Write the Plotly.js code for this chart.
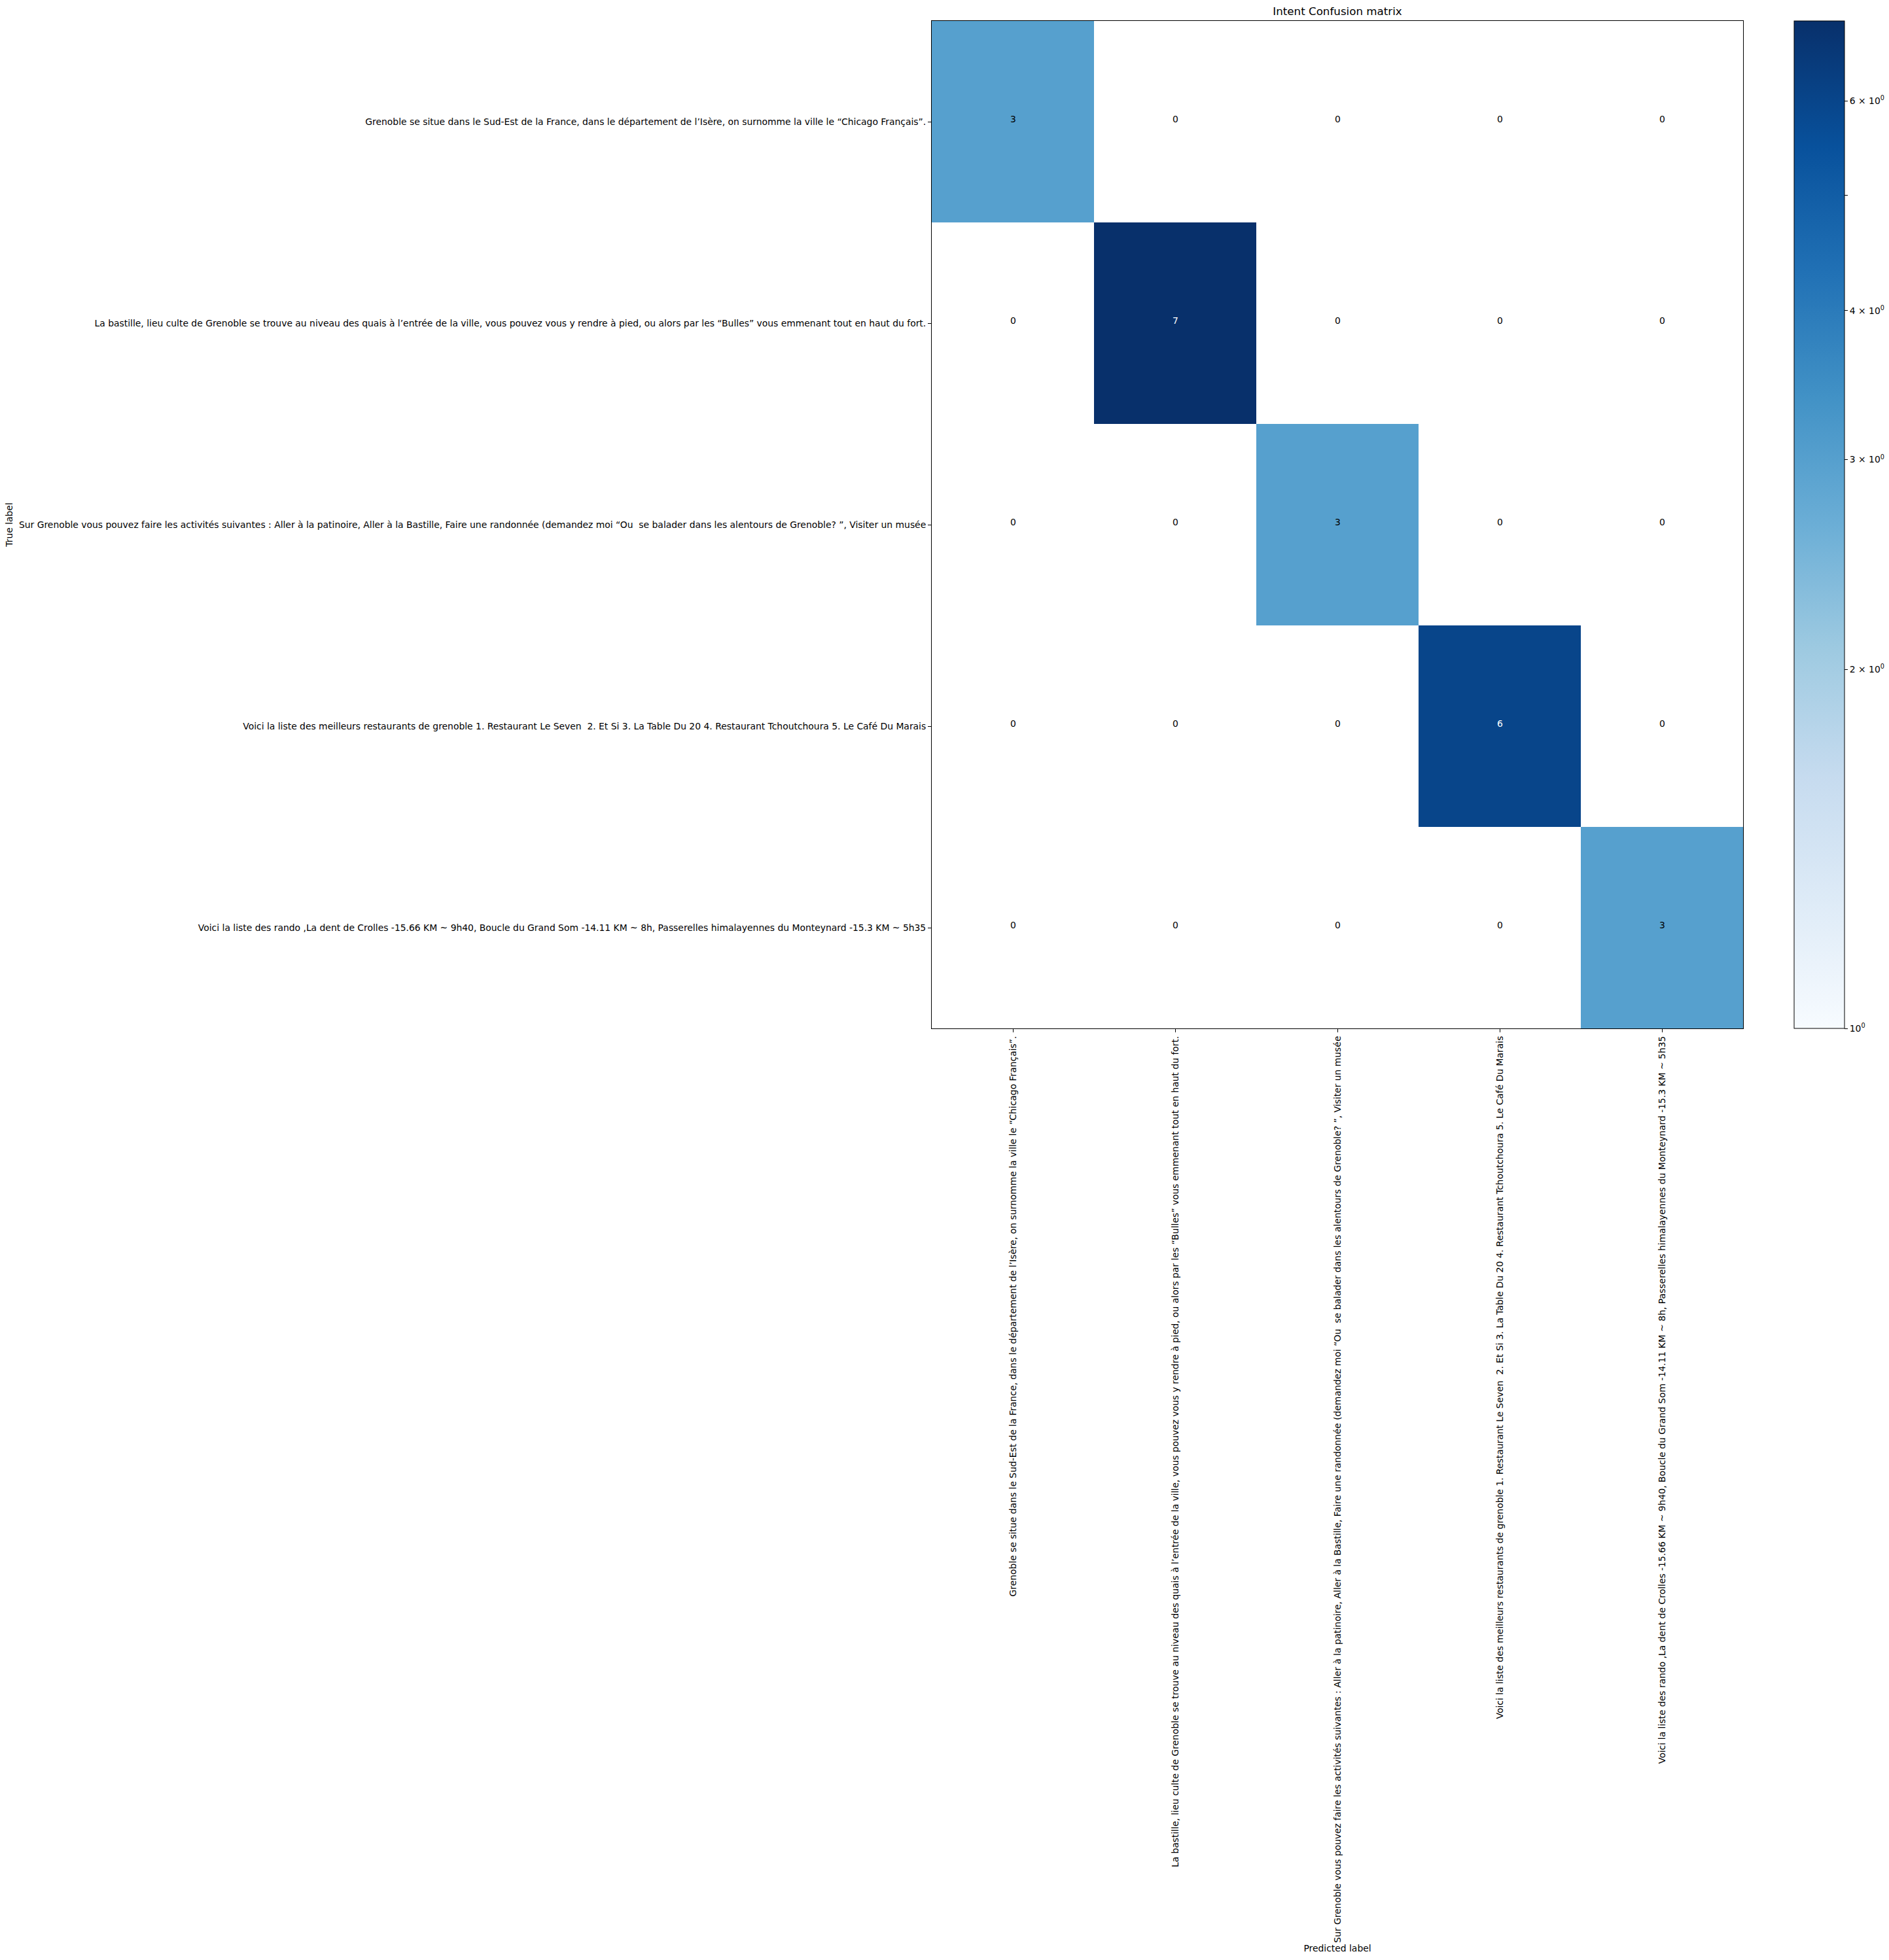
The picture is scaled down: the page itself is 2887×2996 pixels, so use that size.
<!DOCTYPE html>
<html>
<head>
<meta charset="utf-8">
<script src="https://cdn.plot.ly/plotly-3.0.1.min.js"></script>
<style>html,body{margin:0;padding:0;background:#fff;}</style>
</head>
<body>
<div id="chart" style="width:2887px;height:2996px;"></div>
<script>
// ---- data ----
const intentLabels = [
  "Grenoble se situe dans le Sud-Est de la France, dans le département de l’Isère, on surnomme la ville le “Chicago Français”.",
  "La bastille, lieu culte de Grenoble se trouve au niveau des quais à l’entrée de la ville, vous pouvez vous y rendre à pied, ou alors par les “Bulles” vous emmenant tout en haut du fort.",
  "Sur Grenoble vous pouvez faire les activités suivantes : Aller à la patinoire, Aller à la Bastille, Faire une randonnée (demandez moi “Ou \u00a0se balader dans les alentours de Grenoble? ”, Visiter un musée",
  "Voici la liste des meilleurs restaurants de grenoble 1. Restaurant Le Seven \u00a02. Et Si 3. La Table Du 20 4. Restaurant Tchoutchoura 5. Le Café Du Marais",
  "Voici la liste des rando ,La dent de Crolles -15.66 KM ~ 9h40, Boucle du Grand Som -14.11 KM ~ 8h, Passerelles himalayennes du Monteynard -15.3 KM ~ 5h35"
];
const row0 = [3, 0, 0, 0, 0];
const row1 = [0, 7, 0, 0, 0];
const row2 = [0, 0, 3, 0, 0];
const row3 = [0, 0, 0, 6, 0];
const row4 = [0, 0, 0, 0, 3];
const counts = [row0, row1, row2, row3, row4];
const colorbarTickValues = [1, 2, 3, 4, 5, 6];
const colorbarTickText = ["10<sup>0</sup>", "2 × 10<sup>0</sup>", "3 × 10<sup>0</sup>", "4 × 10<sup>0</sup>", "", "6 × 10<sup>0</sup>"];
const colorMin = 1;
const colorMax = 7;

// matplotlib "Blues"
const blues = [
  [0.000, "#f7fbff"], [0.125, "#deebf7"], [0.250, "#c6dbef"],
  [0.375, "#9ecae1"], [0.500, "#6baed6"], [0.625, "#4292c6"],
  [0.750, "#2171b5"], [0.875, "#08519c"], [1.000, "#08306b"]
];

// log-normalised colour values; zero is masked (drawn white)
const zLog = counts.map(r => r.map(v => v > 0 ? Math.log10(v) : null));

const allVals = counts.flat();
const thresh = (Math.max(...allVals) + Math.min(...allVals)) / 2;

const annotations = [];
counts.forEach((r, i) => r.forEach((v, j) => {
  annotations.push({
    x: intentLabels[j], y: intentLabels[i], xref: "x", yref: "y",
    text: String(v), showarrow: false, yshift: 4,
    font: {family: "DejaVu Sans", size: 13.9, color: v > thresh ? "#ffffff" : "#000000"}
  });
}));

const trace = {
  type: "heatmap",
  x: intentLabels,
  y: intentLabels,
  z: zLog,
  zmin: Math.log10(colorMin),
  zmax: Math.log10(colorMax),
  colorscale: blues,
  hoverinfo: "skip",
  colorbar: {
    x: (2742 - 1424) / 1240, xanchor: "left", xref: "paper",
    y: 0.5, yanchor: "middle", len: 1, lenmode: "fraction",
    thickness: 77, thicknessmode: "pixels",
    xpad: 0, ypad: 0,
    outlinecolor: "#000", outlinewidth: 1,
    tickmode: "array",
    tickvals: colorbarTickValues.map(v => Math.log10(v)),
    ticktext: colorbarTickText,
    ticks: "outside", ticklen: 5, tickwidth: 1, tickcolor: "#000",
    tickfont: {family: "DejaVu Sans", size: 13.9, color: "#000"}
  }
};

const layout = {
  width: 2887, height: 2996,
  margin: {l: 1424, r: 223, t: 32, b: 1424, pad: 0, autoexpand: false},
  paper_bgcolor: "#fff", plot_bgcolor: "#fff",
  font: {family: "DejaVu Sans", size: 13.9, color: "#000"},
  title: {
    text: "Intent Confusion matrix",
    font: {family: "DejaVu Sans", size: 16.7, color: "#000"},
    x: 0.5, xref: "paper", xanchor: "center",
    y: 1 - 17 / 2996, yref: "container", yanchor: "middle"
  },
  xaxis: {
    type: "category",
    title: {text: "Predicted label", font: {family: "DejaVu Sans", size: 13.9, color: "#000"}, standoff: 4},
    tickangle: -90,
    tickfont: {family: "DejaVu Sans", size: 13.9, color: "#000"},
    ticks: "outside", ticklen: 5, tickwidth: 1, tickcolor: "#000",
    showline: true, linecolor: "#000", linewidth: 1, mirror: true,
    showgrid: false, zeroline: false, automargin: false
  },
  yaxis: {
    type: "category",
    autorange: "reversed",
    title: {text: "True label", font: {family: "DejaVu Sans", size: 13.9, color: "#000"}, standoff: 6},
    tickfont: {family: "DejaVu Sans", size: 13.9, color: "#000"},
    ticks: "outside", ticklen: 5, tickwidth: 1, tickcolor: "#000",
    showline: true, linecolor: "#000", linewidth: 1, mirror: true,
    showgrid: false, zeroline: false, automargin: false
  },
  annotations: annotations,
  showlegend: false
};

Plotly.newPlot("chart", [trace], layout, {staticPlot: true, displayModeBar: false});
</script>
</body>
</html>
